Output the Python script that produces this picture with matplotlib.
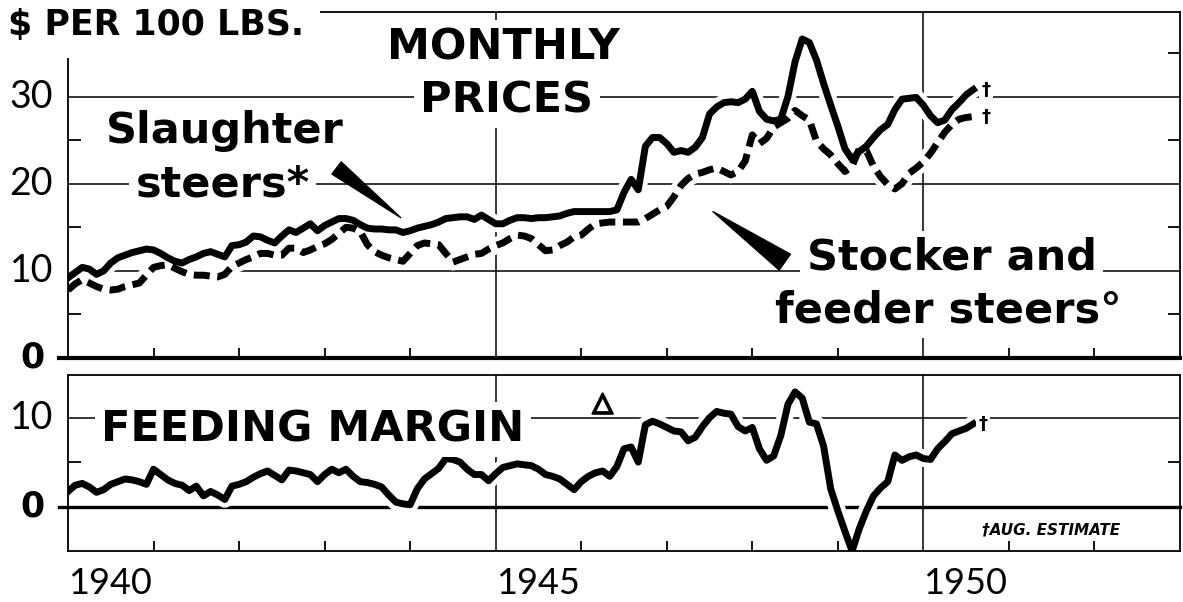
import numpy as np
import matplotlib
matplotlib.use("Agg")
import matplotlib.pyplot as plt
import matplotlib.patheffects as pe

# monthly values, Jan 1940 .. Aug 1950 ($ per 100 lbs.)
start_year = 1940
slaughter = [
    9.2, 9.8, 10.4, 10.2, 9.6, 10.0, 10.9, 11.5, 11.8, 12.1, 12.3, 12.5,
    12.4, 12.0, 11.5, 11.1, 10.9, 11.3, 11.6, 12.0, 12.2, 11.9, 11.6, 12.9,
    13.0, 13.3, 14.0, 13.9, 13.5, 13.2, 14.0, 14.7, 14.4, 14.9, 15.4, 14.6,
    15.2, 15.6, 16.0, 16.0, 15.8, 15.3, 14.9, 14.8, 14.8, 14.7, 14.7, 14.4,
    14.6, 14.9, 15.1, 15.3, 15.6, 16.0, 16.1, 16.2, 16.2, 15.9, 16.4, 15.9,
    15.4, 15.4, 15.8, 16.1, 16.1, 16.0, 16.1, 16.1, 16.2, 16.3, 16.6, 16.8,
    16.8, 16.8, 16.8, 16.8, 16.8, 17.0, 19.0, 20.5, 19.3, 24.3, 25.3, 25.3,
    24.6, 23.6, 23.8, 23.6, 24.2, 25.3, 28.0, 28.8, 29.3, 29.4, 29.3, 29.7,
    30.6, 28.3, 27.4, 27.2, 27.4, 30.0, 34.0, 36.6, 36.2, 34.2, 31.5, 29.0,
    26.6, 24.0, 22.8, 23.7, 24.3, 25.3, 26.2, 26.8, 28.5, 29.7, 29.8, 29.9,
    29.0, 27.8, 27.0, 27.3, 28.5, 29.3, 30.2, 30.8,
]
stocker = [
    7.8, 8.5, 9.0, 8.6, 8.2, 7.9, 7.8, 7.9, 8.2, 8.4, 8.6, 9.5,
    10.4, 10.6, 10.7, 10.3, 9.9, 9.6, 9.5, 9.5, 9.4, 9.3, 9.6, 10.5,
    10.9, 11.3, 11.6, 12.0, 12.0, 11.8, 11.8, 12.6, 12.6, 12.1, 12.4, 12.8,
    13.1, 13.6, 14.3, 15.0, 14.9, 14.5, 13.0, 12.2, 11.8, 11.5, 11.3, 11.1,
    12.0, 12.9, 13.2, 13.1, 13.0, 12.0, 11.0, 11.3, 11.6, 11.9, 12.0, 12.5,
    12.9, 13.2, 13.7, 14.1, 14.0, 13.7, 13.0, 12.3, 12.4, 12.9, 13.3, 13.9,
    14.1, 14.8, 15.4, 15.5, 15.6, 15.6, 15.6, 15.6, 15.6, 16.0, 16.5, 17.0,
    17.4, 18.5, 19.8, 20.6, 21.1, 21.3, 21.6, 21.8, 21.4, 21.0, 21.4, 22.6,
    25.6, 24.6, 25.2, 26.5, 27.0, 27.5, 28.4, 27.8, 27.3, 24.9, 24.0, 23.3,
    22.3, 21.4, 22.0, 24.0, 23.8, 22.0, 20.8, 19.9, 19.4, 20.0, 21.2, 21.8,
    22.5, 23.5, 24.7, 25.9, 26.8, 27.4, 27.6, 27.7,
]
margin = [
    1.7, 2.4, 2.6, 2.2, 1.6, 1.9, 2.5, 2.8, 3.1, 3.0, 2.8, 2.5,
    4.2, 3.6, 3.0, 2.6, 2.4, 1.8, 2.3, 1.2, 1.7, 1.3, 0.8, 2.3,
    2.5, 2.8, 3.3, 3.7, 4.0, 3.5, 3.0, 4.1, 4.0, 3.8, 3.6, 2.8,
    3.6, 4.2, 3.8, 4.2, 3.4, 2.8, 2.7, 2.5, 2.2, 1.3, 0.5, 0.3,
    0.2, 2.0, 3.1, 3.7, 4.3, 5.4, 5.3, 5.0, 4.2, 3.6, 3.6, 2.9,
    3.7, 4.4, 4.6, 4.8, 4.7, 4.6, 4.2, 3.6, 3.4, 3.1, 2.5, 1.9,
    2.8, 3.4, 3.8, 4.0, 3.4, 4.5, 6.5, 6.7, 5.0, 9.2, 9.6, 9.3,
    8.9, 8.5, 8.4, 7.4, 7.8, 9.0, 10.0, 10.7, 10.5, 10.4, 9.0, 8.5,
    8.9, 6.5, 5.2, 5.7, 8.0, 11.5, 12.9, 12.2, 9.5, 9.3, 6.8, 2.0,
    -0.5, -2.8, -5.0, -2.5, -0.5, 1.2, 2.1, 2.8, 5.8, 5.2, 5.6, 5.8,
    5.4, 5.3, 6.5, 7.3, 8.2, 8.5, 8.8, 9.3,
]

year_labels = [1940, 1945, 1950]
year_ticks = [1941, 1942, 1943, 1944, 1946, 1947, 1948, 1949, 1951, 1952]
top_grid = [10, 20, 30]
top_minor = [5, 15, 25, 35]
top_labels = [10, 20, 30]
bot_grid = [10]
bot_minor = [5]
bot_labels = [10]

dates = start_year + np.arange(len(slaughter)) / 12.0

W, H = 1183, 602
HEAD = dict(family="DejaVu Sans", fontweight="bold", color="black")
NUM = dict(family="Lato", fontweight="normal", color="black")
WHITE = dict(facecolor="white", edgecolor="none", boxstyle="square,pad=0.15")
BIG = 31

fig = plt.figure(figsize=(W / 100, H / 100), dpi=100)
ax1 = fig.add_axes([68 / W, 1 - 358 / H, 1112 / W, 346 / H])
ax2 = fig.add_axes([68 / W, 1 - 551 / H, 1112 / W, 176 / H])

for ax in (ax1, ax2):
    ax.set_xlim(1940, 1953)
    for s in ax.spines.values():
        s.set_linewidth(1.3)
    ax.set_xticks(year_ticks)
    ax.tick_params(axis="x", direction="in", length=7, width=1.3,
                   labelbottom=False)
    ax.tick_params(axis="y", direction="in", length=9, width=1.3,
                   left=True, right=True, labelleft=False)
    for yr in (1945, 1950):
        ax.axvline(yr, color="k", lw=1.1, zorder=1)

ax1.set_ylim(0, 39.7)
ax2.set_ylim(-5, 14.8)
ax1.set_yticks(top_minor)
ax2.set_yticks(bot_minor)

for v in top_grid:
    ax1.axhline(v, color="k", lw=1.1, zorder=1)
for v in bot_grid:
    ax2.axhline(v, color="k", lw=1.1, zorder=1)
ax1.axhline(0, xmin=-0.008, xmax=1, color="k", lw=3, clip_on=False, zorder=3)
ax2.axhline(0, xmin=-0.008, xmax=1, color="k", lw=2.4, clip_on=False, zorder=1.5)

# white halos that break the grid around the curves
ax1.plot(dates, slaughter, color="white", lw=12, zorder=2)
ax1.plot(dates, stocker, color="white", lw=12, zorder=2)
ax2.plot(dates, margin, color="white", lw=12, zorder=2)

ax1.plot(dates, slaughter, color="k", lw=5, solid_joinstyle="round", zorder=3)
ax1.plot(dates, stocker, color="k", lw=5, linestyle=(0, (2.3, 1.1)),
         dash_capstyle="butt", dash_joinstyle="round", zorder=3)
ax2.plot(dates, margin, color="k", lw=5, solid_joinstyle="round", zorder=3)

# titles and labels
fig.text(8 / W, 1 - 35 / H, "$ PER 100 LBS.", fontsize=25, ha="left",
         va="baseline", zorder=6,
         bbox=dict(facecolor="white", edgecolor="none", boxstyle="square,pad=0.45"),
         **HEAD)
ax1.text(1945.09, 34.3, "MONTHLY", fontsize=BIG, ha="center", va="baseline",
         bbox=WHITE, zorder=5, **HEAD)
ax1.text(1945.13, 28.2, "PRICES", fontsize=BIG, ha="center", va="baseline",
         bbox=WHITE, zorder=5, **HEAD)
ax1.text(1941.83, 24.7, "Slaughter", fontsize=BIG, ha="center", va="baseline",
         bbox=WHITE, zorder=5, **HEAD)
ax1.text(1941.81, 18.5, "steers*", fontsize=BIG, ha="center", va="baseline",
         bbox=WHITE, zorder=5, **HEAD)
ax1.text(1950.33, 10.1, "Stocker and", fontsize=BIG, ha="center", va="baseline",
         bbox=WHITE, zorder=5, **HEAD)
ax1.text(1950.29, 4.1, "feeder steers°", fontsize=BIG, ha="center", va="baseline",
         bbox=WHITE, zorder=5, **HEAD)

ax1.annotate("", xy=(1943.89, 16.1), xytext=(1943.14, 21.8), zorder=5,
             arrowprops=dict(arrowstyle="wedge,tail_width=0.55", color="k",
                             shrinkA=0, shrinkB=0, mutation_scale=20))
ax1.annotate("", xy=(1947.54, 16.8), xytext=(1948.38, 11.0), zorder=5,
             arrowprops=dict(arrowstyle="wedge,tail_width=0.7", color="k",
                             shrinkA=0, shrinkB=0, mutation_scale=20))

for yv in (slaughter[-1], stocker[-1]):
    ax1.text(1950.73, yv, "†", fontsize=13, ha="center", va="center",
             bbox=WHITE, zorder=5, **HEAD)
ax2.text(1950.7, margin[-1], "†", fontsize=13, ha="center", va="center",
         bbox=WHITE, zorder=5, **HEAD)

ax2.text(1940.39, 7.3, "FEEDING MARGIN", fontsize=BIG, ha="left", va="baseline",
         bbox=WHITE, zorder=5, **HEAD)
ax2.text(1946.25, 11.6, "△", fontsize=19, ha="center", va="center",
         family="DejaVu Sans", fontweight="bold", zorder=5,
         path_effects=[pe.withStroke(linewidth=1.6, foreground="k")])
ax2.text(1950.69, -3.1, "†AUG. ESTIMATE", fontsize=11, ha="left",
         va="baseline", style="italic", zorder=5, **HEAD)

# axis numbers
for v in top_labels:
    ax1.text(-0.0135, v, str(v), transform=ax1.get_yaxis_transform(),
             fontsize=27, ha="right", va="center", **NUM)
for v in bot_labels:
    ax2.text(-0.0135, v, str(v), transform=ax2.get_yaxis_transform(),
             fontsize=27, ha="right", va="center", **NUM)
for ax in (ax1, ax2):
    ax.text(-0.0324, 0, "0", transform=ax.get_yaxis_transform(),
            fontsize=25, ha="center", va="center", clip_on=False, **HEAD)
for yr in year_labels:
    ax2.text(yr, -0.28, str(yr), transform=ax2.get_xaxis_transform(),
             fontsize=26, ha="left", va="bottom", **NUM)

fig.savefig("out.png", dpi=100)
